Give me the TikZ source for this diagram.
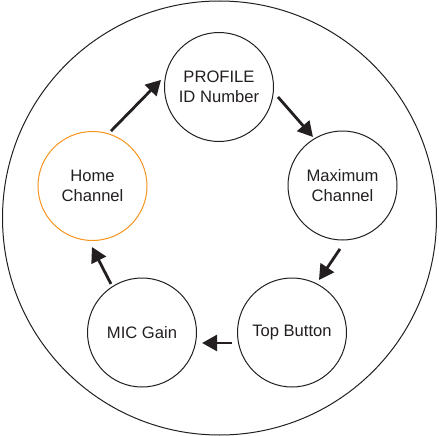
\documentclass[tikz,border=0pt]{standalone}
\usepackage{fontspec}
\setmainfont{Liberation Sans}
\usetikzlibrary{calc,arrows.meta}
\definecolor{ink}{HTML}{231F20}
\definecolor{orng}{HTML}{F7941D}
\begin{document}
\begin{tikzpicture}[x=1pt,y=-1pt,
  stage/.style={circle,draw=ink,line width=1pt,minimum size=109pt,inner sep=0pt,align=center,text=ink,font=\fontsize{16.6}{20}\selectfont},
  arr/.style={draw=ink,line width=2.8pt,-{Triangle[length=15pt,width=16pt]}}]
\useasboundingbox (0,0) rectangle (439,436);
\node[circle,draw=ink,line width=1pt,minimum size=434pt,inner sep=0pt] (outer) at (219.5,218) {};
\node[stage] (profile) at (219,87) {PROFILE\\ID Number};
\node[stage] (maxch) at (342.5,185.5) {Maximum\\Channel};
\node[stage] (top) at (292,332.5) {Top Button};
\node[stage] (mic) at (142,332.5) {MIC Gain};
\node[stage,draw=orng] (home) at (92.5,186) {Home\\Channel};
\draw[arr] ($(home.center)+(-71.4:58)$) -- ($(profile.center)+(-173:58.4)$);
\draw[arr] ($(profile.center)+(9.6:59.8)$) -- ($(maxch.center)+(-121.3:56.8)$);
\draw[arr] ($(maxch.center)+(-267.7:63.5)$) -- ($(top.center)+(-62.8:59)$);
\draw[arr] ($(top.center)+(-189.9:61)$) -- ($(mic.center)+(9.9:61)$);
\draw[arr] ($(mic.center)+(-122.6:57.6)$) -- ($(home.center)+(-269.5:61)$);
\end{tikzpicture}
\end{document}
